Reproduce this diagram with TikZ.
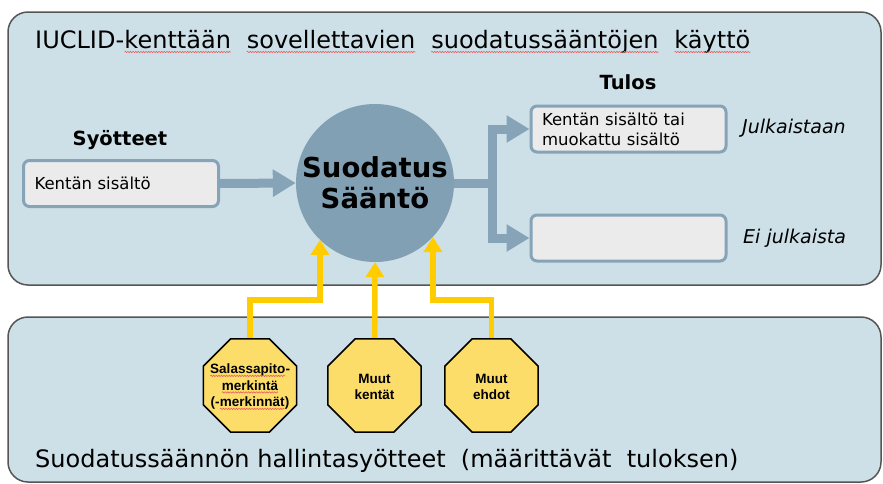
\documentclass[tikz,border=0pt]{standalone}
\usepackage{fontspec}
\setmainfont{DejaVu Sans}
\newfontfamily\octfont{Liberation Sans}
\usetikzlibrary{arrows.meta,shapes.geometric,decorations.pathmorphing}
\definecolor{panelfill}{RGB}{205,224,231}
\definecolor{panelline}{RGB}{85,85,85}
\definecolor{rulefill}{RGB}{129,160,180}
\definecolor{flowcol}{RGB}{135,163,184}
\definecolor{boxfill}{RGB}{235,235,235}
\definecolor{octfill}{RGB}{252,221,106}
\definecolor{yelcol}{RGB}{255,204,0}
\definecolor{spellred}{RGB}{232,96,96}
\newcommand\spellmark[2][4pt]{\tikz[baseline=(sw.base)]{\node[shape=rectangle,draw=none,fill=none,inner sep=0pt,outer sep=0pt](sw){#2};\draw[spellred,line width=0.6pt,decorate,decoration={snake,amplitude=0.7pt,segment length=2.6pt}]([yshift=-#1]sw.base west)--([yshift=-#1]sw.base east);}}
\begin{document}
\begin{tikzpicture}[x=1pt,y=-1pt,
  panel/.style={draw=panelline,line width=1.5pt,fill=panelfill,rounded corners=20pt},
  iobox/.style={draw=flowcol,line width=3pt,fill=boxfill,rounded corners=6pt,
    minimum width=195pt,minimum height=46pt,inner xsep=11pt,inner ysep=0pt,
    text width=173pt,align=left,font=\fontsize{16.5}{20}\selectfont},
  flowline/.style={draw=flowcol,line width=9pt},
  flow/.style={flowline,line join=miter,-{Triangle[width=26pt,length=23pt]}},
  yel/.style={draw=yelcol,line width=5.5pt,line join=miter,-{Triangle[width=18pt,length=15pt]}},
  oct/.style={regular polygon,regular polygon sides=8,minimum size=101pt,inner sep=0pt,
    draw=black,line width=1.5pt,fill=octfill},
  octtext/.style={align=center,inner sep=0pt,font=\octfont\bfseries\fontsize{13.5}{16.5}\selectfont},
  label/.style={inner sep=0pt,font=\bfseries\fontsize{19.5}{23}\selectfont},
  side/.style={anchor=base west,inner sep=0pt,font=\itshape\fontsize{19}{22}\selectfont},
  heading/.style={anchor=base west,inner sep=0pt,font=\fontsize{24}{28}\selectfont}]
\useasboundingbox (0,0) rectangle (883,483);
% panels
\draw[panel] (8,12) rectangle (881,285);
\draw[panel] (8,317) rectangle (881,482);
% headings
\node[heading] (title) at (35,48) {IUCLID-\spellmark{kenttään}\ \ \spellmark{sovellettavien}\ \ \spellmark{suodatussääntöjen}\ \ \spellmark{käyttö}};
\node[heading] (subtitle) at (35,467) {Suodatussäännön hallintasyötteet\ \ (määrittävät\ \ tuloksen)};
% central rule
\node[circle,fill=rulefill,minimum size=158pt,inner sep=0pt,align=center,
  font=\bfseries\fontsize{27.5}{31}\selectfont] (rule) at (375,183) {Suodatus\\Sääntö};
% input
\node[label,anchor=base] (syotteet) at (120,145) {Syötteet};
\node[iobox] (inbox) at (121,183.5) {Kentän sisältö};
\draw[flow] (inbox.east) -- (rule.west);
% outputs
\node[label,anchor=base] (tulos) at (628,89) {Tulos};
\node[iobox] (out1) at (628.5,129) {Kentän sisältö tai\\muokattu sisältö};
\node[iobox] (out2) at (628.5,238) {};
\node[side] (julk) at (742,133) {Julkaistaan};
\node[side] (eijulk) at (743,243) {Ei julkaista};
\coordinate (br) at (492,183);
\draw[flowline] (rule.east) -- (br);
\draw[flow] (br) |- (out1.west);
\draw[flow] (br) |- (out2.west);
% control inputs
\coordinate (h1) at (0,300);
\coordinate (o1c) at (250,385.5);
\coordinate (o2c) at (374.5,385.5);
\coordinate (o3c) at (491.5,385.5);
\draw[yel] (o1c) |- (rule.-134 |- h1) -- (rule.-134);
\draw[yel] (o2c) -- (rule.south);
\draw[yel] (o3c) |- (rule.-43 |- h1) -- (rule.-43);
\node[oct] (oct1) at (o1c) {};
\node[oct] (oct2) at (o2c) {};
\node[oct] (oct3) at (o3c) {};
\node[octtext] (t1) at (250,387) {\spellmark[2pt]{Salassapito}-\\\spellmark[2pt]{merkintä}\\(-\spellmark[2pt]{merkinnät})};
\node[octtext] (t2) at (374.5,387) {Muut\\kentät};
\node[octtext] (t3) at (491.5,387) {Muut\\ehdot};
\end{tikzpicture}
\end{document}
